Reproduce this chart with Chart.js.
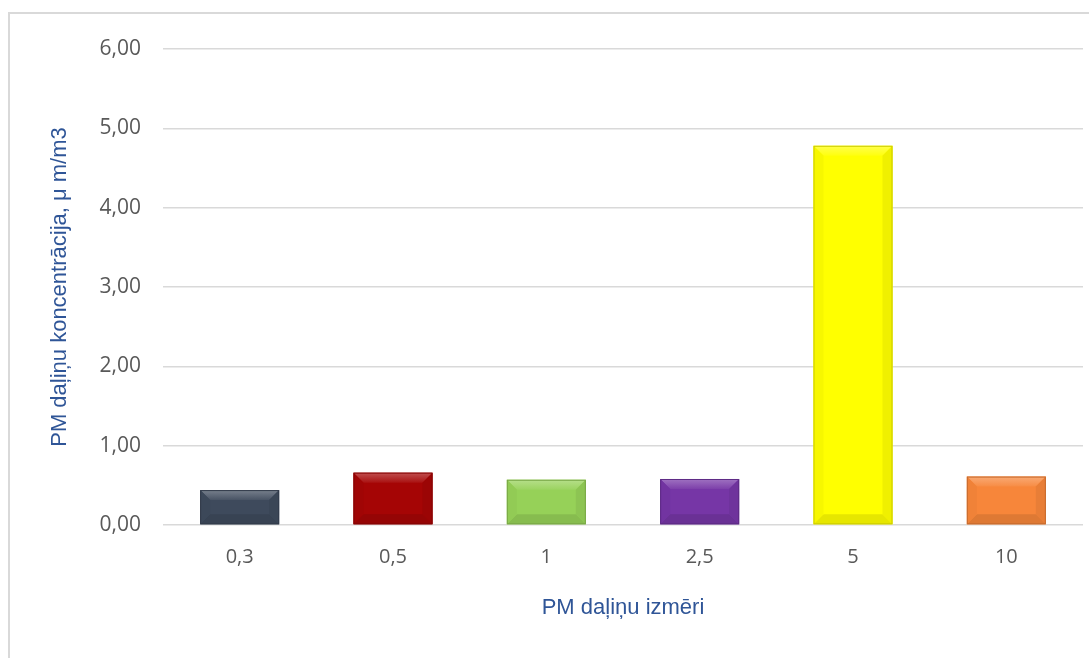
<!DOCTYPE html>
<html>
<head>
<meta charset="utf-8">
<script src="https://cdn.jsdelivr.net/npm/chart.js@4.4.1/dist/chart.umd.min.js"></script>
<style>
  html, body { margin: 0; padding: 0; background: #fff; overflow: hidden; }
  #wrap { position: relative; width: 1089px; height: 658px; }
  #frame {
    position: absolute; left: 8px; top: 12px; width: 1200px; height: 800px;
    border: 2px solid #d9d9d9; box-sizing: border-box;
  }
  canvas { position: absolute; left: 0; top: 0; }
</style>
</head>
<body>
<div id="wrap">
  <div id="frame"></div>
  <canvas id="chart" width="1089" height="658"></canvas>
</div>
<script>
// daļiņu izmēri un koncentrācijas
const sizes = ['0,3', '0,5', '1', '2,5', '5', '10'];
const concentrations = [0.44, 0.66, 0.57, 0.58, 4.78, 0.61];
const barColors = ['#3e4a5c', '#a50505', '#96d158', '#7636a6', '#ffff00', '#f7863a'];
const yTicks = [0, 1, 2, 3, 4, 5, 6];

const titleBlue = '#2f5597';
const tickGray = '#595959';

// sajauc krāsu ar baltu (t>0) vai melnu (t<0)
function shade(hex, t) {
  const n = parseInt(hex.slice(1), 16);
  let r = (n >> 16) & 255, g = (n >> 8) & 255, b = n & 255;
  const target = t > 0 ? 255 : 0;
  const k = Math.abs(t);
  r = Math.round(r + (target - r) * k);
  g = Math.round(g + (target - g) * k);
  b = Math.round(b + (target - b) * k);
  return `rgb(${r},${g},${b})`;
}

// slīpās malas efekts stabiņiem
const bevelPlugin = {
  id: 'bevel',
  afterDatasetsDraw(chart) {
    const ctx = chart.ctx;
    const meta = chart.getDatasetMeta(0);
    meta.data.forEach((bar, i) => {
      const c = barColors[i];
      const left = bar.x - bar.width / 2;
      const right = bar.x + bar.width / 2;
      const top = bar.y;
      const bottom = bar.base;
      const s = Math.min(10, (bottom - top) / 2);
      ctx.save();
      // augšējā mala
      ctx.beginPath();
      ctx.moveTo(left, top);
      ctx.lineTo(right, top);
      ctx.lineTo(right - s, top + s);
      ctx.lineTo(left + s, top + s);
      ctx.closePath();
      const gTop = ctx.createLinearGradient(0, top, 0, top + s);
      gTop.addColorStop(0, shade(c, 0.3));
      gTop.addColorStop(1, shade(c, 0.05));
      ctx.fillStyle = gTop;
      ctx.fill();
      // apakšējā mala
      ctx.beginPath();
      ctx.moveTo(left, bottom);
      ctx.lineTo(right, bottom);
      ctx.lineTo(right - s, bottom - s);
      ctx.lineTo(left + s, bottom - s);
      ctx.closePath();
      ctx.fillStyle = shade(c, -0.1);
      ctx.fill();
      // sānu malas
      ctx.beginPath();
      ctx.moveTo(left, top);
      ctx.lineTo(left + s, top + s);
      ctx.lineTo(left + s, bottom - s);
      ctx.lineTo(left, bottom);
      ctx.closePath();
      ctx.fillStyle = shade(c, -0.03);
      ctx.fill();
      ctx.beginPath();
      ctx.moveTo(right, top);
      ctx.lineTo(right - s, top + s);
      ctx.lineTo(right - s, bottom - s);
      ctx.lineTo(right, bottom);
      ctx.closePath();
      ctx.fillStyle = shade(c, -0.06);
      ctx.fill();
      // kontūra
      ctx.strokeStyle = shade(c, -0.2);
      ctx.lineWidth = 1;
      ctx.strokeRect(left + 0.5, top + 0.5, right - left - 1, bottom - top - 1);
      ctx.restore();
    });
  }
};

new Chart(document.getElementById('chart'), {
  type: 'bar',
  data: {
    labels: sizes,
    datasets: [{
      data: concentrations,
      backgroundColor: barColors,
      borderWidth: 0,
      barPercentage: 0.515,
      categoryPercentage: 1
    }]
  },
  options: {
    responsive: false,
    animation: false,
    events: [],
    layout: { padding: { left: 40, right: 6, top: 49, bottom: 30 } },
    plugins: {
      legend: { display: false },
      tooltip: { enabled: false }
    },
    scales: {
      x: {
        grid: { display: false, drawTicks: false },
        border: { display: false },
        ticks: { color: tickGray, padding: 20, font: { family: 'Open Sans', size: 20 } },
        title: {
          display: true,
          text: 'PM daļiņu izmēri',
          color: titleBlue,
          padding: { top: 0, bottom: 7 },
          font: { family: 'Liberation Sans', size: 22 }
        },
        afterFit(scale) { scale.height = 103; }
      },
      y: {
        min: 0,
        max: 6,
        afterBuildTicks(scale) { scale.ticks = yTicks.map(v => ({ value: v })); },
        grid: { color: '#d9d9d9', lineWidth: 1.5, drawTicks: false },
        border: { display: false },
        ticks: {
          color: tickGray,
          padding: 22,
          font: { family: 'Open Sans', size: 21 },
          callback: v => v.toFixed(2).replace('.', ',')
        },
        title: {
          display: true,
          text: 'PM daļiņu koncentrācija, μ m/m3',
          color: titleBlue,
          padding: { top: 7, bottom: 0 },
          font: { family: 'Liberation Sans', size: 22 }
        },
        afterFit(scale) { scale.width = 123; }
      }
    }
  },
  plugins: [bevelPlugin]
});
</script>
</body>
</html>
